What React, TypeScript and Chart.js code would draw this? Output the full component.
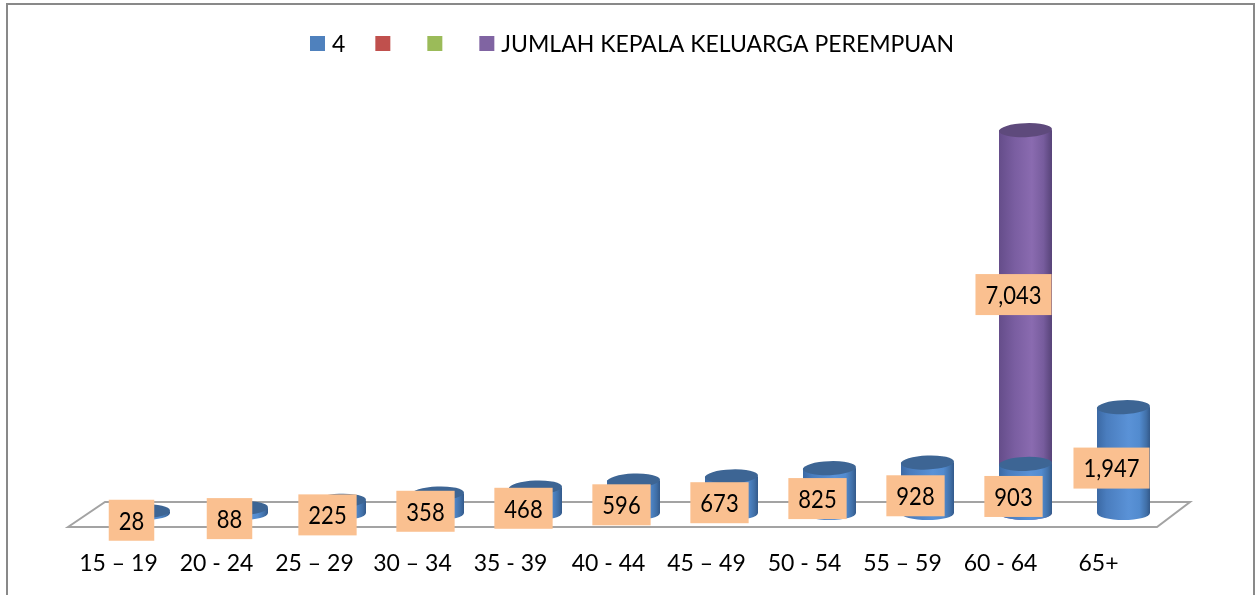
import React, { useEffect, useRef } from "react";
import { Chart, registerables } from "chart.js";

Chart.register(...registerables);

// ---- data ----
const categories = [
  "15 – 19", "20 - 24", "25 – 29", "30 – 34", "35 - 39", "40 - 44",
  "45 – 49", "50 - 54", "55 – 59", "60 - 64", "65+",
];
const seriesNames = ["4", "", "", "JUMLAH KEPALA KELUARGA PEREMPUAN"];
const series4 = [28, 88, 225, 358, 468, 596, 673, 825, 928, 903, 1947];
const seriesRed: (number | null)[] = [null, null, null, null, null, null, null, null, null, null, null];
const seriesGreen: (number | null)[] = [null, null, null, null, null, null, null, null, null, null, null];
const seriesPerempuan: (number | null)[] = [null, null, null, null, null, null, null, null, null, 7043, null];
const yMin = 0;
const yMax = 7800;

// ---- styles ----
const STYLES = [
  {
    base: "#4F81BD",
    top: "#3D6594",
    stops: [[0, "#3b69a4"], [0.18, "#4a7dbe"], [0.6, "#5a92d7"], [0.8, "#528bcf"], [0.93, "#4170a8"], [1, "#33598a"]],
    labelShift: 8,
  },
  { base: "#C0504D", top: "#9a3c3a", stops: [[0, "#a84442"], [0.6, "#d05a57"], [1, "#8d3533"]], labelShift: 8 },
  { base: "#9BBB59", top: "#7a9644", stops: [[0, "#859f4a"], [0.6, "#a9c964"], [1, "#6f8a3c"]], labelShift: 8 },
  {
    base: "#8064A2",
    top: "#5E4A7C",
    stops: [[0, "#654d8a"], [0.3, "#7a5ea1"], [0.62, "#8a6bb0"], [0.84, "#775c9d"], [1, "#574378"]],
    labelShift: -27,
  },
];

const FONT = "Lato";

function drawCylinder(ctx: CanvasRenderingContext2D, x: number, y: number, base: number, w: number, st: any) {
  const left = x - w / 2;
  const right = x + w / 2;
  const rx = w / 2;
  const ry = 7;
  const grad = ctx.createLinearGradient(left, 0, right, 0);
  st.stops.forEach(([o, c]: [number, string]) => grad.addColorStop(o, c));
  ctx.save();
  ctx.beginPath();
  ctx.moveTo(left, y);
  ctx.lineTo(left, base);
  ctx.ellipse(x, base, rx, ry, 0, Math.PI, 0, true);
  ctx.lineTo(right, y);
  ctx.closePath();
  ctx.fillStyle = grad;
  ctx.fill();
  ctx.beginPath();
  ctx.ellipse(x, y, rx, ry, -0.04, 0, Math.PI * 2);
  ctx.fillStyle = st.top;
  ctx.fill();
  ctx.restore();
}

const framePlugin = {
  id: "frame",
  beforeDraw(chart: any) {
    const ctx = chart.ctx;
    ctx.save();
    ctx.fillStyle = "#ffffff";
    ctx.fillRect(0, 0, chart.width, chart.height);
    ctx.strokeStyle = "#898989";
    ctx.lineWidth = 2;
    ctx.strokeRect(7, 4, 1247, 800);
    ctx.restore();
  },
  beforeDatasetsDraw(chart: any) {
    const ctx = chart.ctx;
    const { left, right, bottom } = chart.chartArea;
    ctx.save();
    ctx.beginPath();
    ctx.moveTo(left - 26.5, bottom + 14);
    ctx.lineTo(left + 10.5, bottom - 11);
    ctx.lineTo(right + 17.5, bottom - 11);
    ctx.lineTo(right - 15.5, bottom + 14);
    ctx.closePath();
    ctx.strokeStyle = "#a3a3a3";
    ctx.lineWidth = 2;
    ctx.stroke();
    ctx.restore();
  },
  afterDatasetDraw(chart: any, args: any) {
    const ctx = chart.ctx;
    const di = args.index;
    const meta = args.meta;
    const ds = chart.data.datasets[di];
    meta.data.forEach((el: any, i: number) => {
      const v = ds.data[i];
      if (v == null) return;
      const p = el.getProps(["x", "y", "base", "width"], true);
      drawCylinder(ctx, p.x, p.y, p.base, p.width, STYLES[di]);
    });
  },
  afterDatasetsDraw(chart: any) {
    const ctx = chart.ctx;
    chart.data.datasets.forEach((ds: any, di: number) => {
      const meta = chart.getDatasetMeta(di);
      meta.data.forEach((el: any, i: number) => {
        const v = ds.data[i];
        if (v == null) return;
        const p = el.getProps(["x", "y", "base"], true);
        const cx = p.x - 12;
        const cy = (p.y + p.base) / 2 + STYLES[di].labelShift;
        const text = Number(v).toLocaleString("en-US");
        ctx.save();
        ctx.font = `22px ${FONT}`;
        const tw = ctx.measureText(text).width;
        const bw = tw + 20;
        const bh = 41;
        ctx.fillStyle = "#FAC090";
        ctx.fillRect(cx - bw / 2, cy - bh / 2, bw, bh);
        ctx.translate(cx, cy + 1);
        ctx.scale(1, 1.18);
        ctx.fillStyle = "#000000";
        ctx.textAlign = "center";
        ctx.textBaseline = "middle";
        ctx.fillText(text, 0, 0);
        ctx.restore();
      });
    });
  },
  afterDraw(chart: any) {
    const ctx = chart.ctx;
    ctx.save();
    ctx.font = `23px ${FONT}`;
    const box = 15;
    const gapText = 7;
    const gapItem = 30;
    const items = chart.data.datasets.map((ds: any, di: number) => {
      const tw = ds.label ? ctx.measureText(ds.label).width : 0;
      return { text: ds.label, color: STYLES[di].base, w: box + gapText + tw };
    });
    const total = items.reduce((s: number, it: any) => s + it.w, 0) + gapItem * (items.length - 1);
    let x = 632 - total / 2;
    const cy = 43.5;
    items.forEach((it: any) => {
      ctx.fillStyle = it.color;
      ctx.fillRect(x, cy - box / 2, box, box);
      if (it.text) {
        ctx.fillStyle = "#000000";
        ctx.textBaseline = "middle";
        ctx.textAlign = "left";
        ctx.fillText(it.text, x + box + gapText, cy + 1);
      }
      x += it.w + gapItem;
    });
    ctx.restore();
  },
};

export default function App() {
  const canvasRef = useRef<HTMLCanvasElement | null>(null);

  useEffect(() => {
    document.body.style.margin = "0";
    document.body.style.overflow = "hidden";
    const canvas = canvasRef.current;
    if (!canvas) return;
    const datasetsData = [series4, seriesRed, seriesGreen, seriesPerempuan];
    const chart = new Chart(canvas, {
      type: "bar",
      data: {
        labels: categories,
        datasets: datasetsData.map((d, i) => ({
          label: seriesNames[i],
          data: d,
          backgroundColor: STYLES[i].base,
          borderWidth: 0,
          categoryPercentage: 0.8,
          barPercentage: 0.676,
        })),
      },
      options: {
        responsive: false,
        animation: false,
        layout: { padding: { left: 94.5, right: 82.5, top: 89, bottom: 0 } },
        plugins: {
          legend: { display: false },
          tooltip: { enabled: false },
        },
        scales: {
          x: {
            stacked: true,
            grid: { display: false },
            border: { display: false },
            ticks: {
              font: { family: FONT, size: 23 },
              color: "#000000",
              padding: 29,
              labelOffset: -25,
              autoSkip: false,
              maxRotation: 0,
              minRotation: 0,
            },
            afterFit: (s: any) => {
              s.height = 82;
            },
          },
          y: {
            display: false,
            stacked: false,
            min: yMin,
            max: yMax,
          },
        },
      },
      plugins: [framePlugin],
    } as any);
    return () => chart.destroy();
  }, []);

  return (
    <div style={{ width: 1255, height: 595 }}>
      <canvas ref={canvasRef} width={1255} height={595} style={{ width: "1255px", height: "595px", display: "block" }} />
    </div>
  );
}
